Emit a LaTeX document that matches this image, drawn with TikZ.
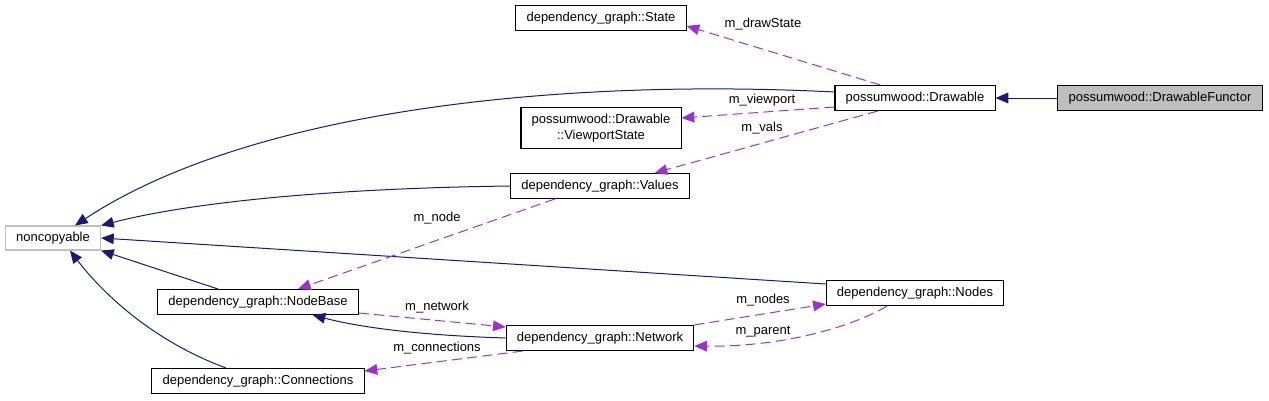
\documentclass[tikz,border=0pt]{standalone}
\usepackage{fontspec}
\setmainfont{Liberation Sans}
\usetikzlibrary{arrows.meta}
\definecolor{inhblue}{HTML}{191970}
\definecolor{usepurple}{HTML}{9A32CD}
\definecolor{boxgray}{HTML}{BFBFBF}
\tikzset{
  cls/.style={draw=black, line width=0.8pt, fill=white, inner xsep=8pt, inner ysep=0pt,
    minimum height=18.75pt, font=\fontsize{9.75}{12}\selectfont},
  inherit/.style={draw=inhblue, line width=0.75pt, -{Triangle[length=9.5pt,width=8pt]}},
  uses/.style={draw=usepurple, line width=0.75pt, dash pattern=on 7.5pt off 4pt,
    -{Triangle[length=9.5pt,width=8pt]}},
  lbl/.style={font=\fontsize{9.75}{12}\selectfont, inner sep=1pt}
}
\begin{document}
\begin{tikzpicture}[x=0.75pt,y=-0.75pt]
  \useasboundingbox (0,0) rectangle (1269,400);

  \node[cls] at (601,18) (state) {dependency\_graph::State};
  \node[cls] at (915,98) (drawable) {possumwood::Drawable};
  \node[cls, fill=boxgray] at (1160,98) (functor) {possumwood::DrawableFunctor};
  \node[cls, align=center, minimum height=30.75pt] at (601,128) (viewport) {possumwood::Drawable\\::ViewportState};
  \node[cls] at (600,186) (values) {dependency\_graph::Values};
  \node[cls, draw=boxgray, minimum height=18pt] at (53,238) (noncopy) {noncopyable};
  \node[cls] at (915,293) (nodes) {dependency\_graph::Nodes};
  \node[cls] at (258,302) (nodebase) {dependency\_graph::NodeBase};
  \node[cls] at (600,338) (network) {dependency\_graph::Network};
  \node[cls] at (258,381) (conns) {dependency\_graph::Connections};

  \draw[inherit] (functor) -- (drawable);
  \draw[inherit] ([yshift=4.5pt]drawable.west) .. controls (560,78) and (250,110) .. ([xshift=16.5pt]noncopy.north);
  \draw[inherit] (values.west) .. controls (350,188) and (200,200) .. (noncopy.north east);
  \draw[inherit] ([yshift=6.75pt]nodes.west) -- (noncopy.east);
  \draw[inherit] ([xshift=-30pt]nodebase.north) -- (noncopy.south east);
  \draw[inherit] ([xshift=-24pt]conns.north) .. controls (150,340) and (100,290) .. ([xshift=12.75pt]noncopy.south);
  \draw[inherit] (network.west) .. controls (440,336) and (370,330) .. ([xshift=41pt]nodebase.south);

  \draw[uses] ([xshift=-26pt]drawable.north) -- ([yshift=-6pt]state.east);
  \draw[uses] ([yshift=-6.75pt]drawable.west) -- ([yshift=7.5pt]viewport.east);
  \draw[uses] ([xshift=-28pt]drawable.south) -- ([xshift=41pt]values.north);
  \draw[uses] ([xshift=-34pt]values.south) -- ([xshift=30pt]nodebase.north);
  \draw[uses] ([yshift=-8.25pt]nodebase.east) -- ([yshift=8.25pt]network.west);
  \draw[uses] (network.north east) -- ([yshift=1.5pt]nodes.south west);
  \draw[uses] ([xshift=-21pt]nodes.south) .. controls (850,328) and (780,347) .. ([yshift=-6pt]network.east);
  \draw[uses] ([xshift=-58pt]network.south) -- ([yshift=7.5pt]conns.east);

  \node[lbl] at (763,24) (ldraw) {m\_drawState};
  \node[lbl] at (762,100) (lview) {m\_viewport};
  \node[lbl] at (762,128) (lvals) {m\_vals};
  \node[lbl] at (437,218) (lnode) {m\_node};
  \node[lbl] at (437,307) (lnet) {m\_network};
  \node[lbl] at (437,348) (lconn) {m\_connections};
  \node[lbl] at (763,300) (lnodes) {m\_nodes};
  \node[lbl] at (763,332) (lparent) {m\_parent};
\end{tikzpicture}
\end{document}
